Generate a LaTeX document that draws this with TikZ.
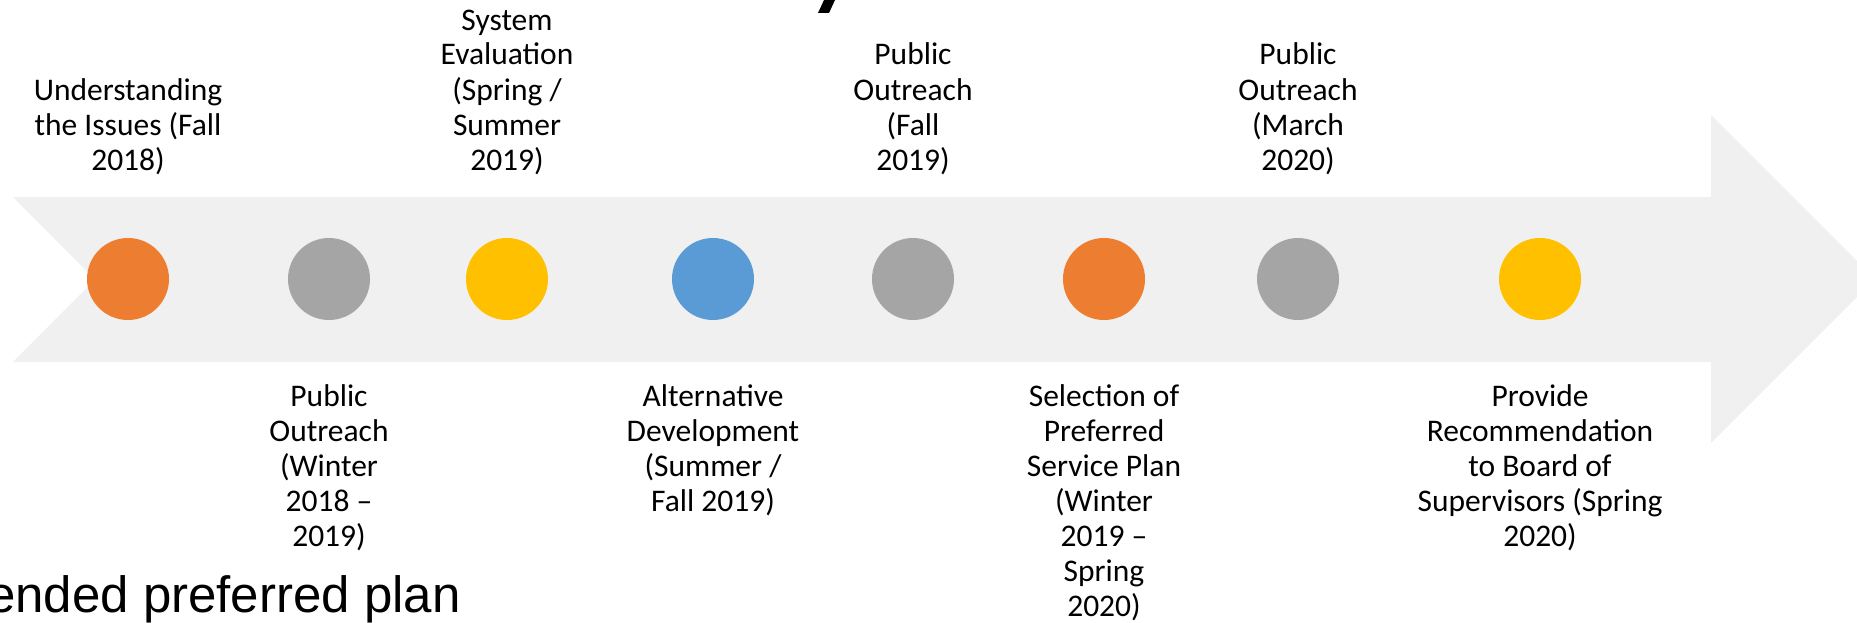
\documentclass[tikz,border=0pt]{standalone}
\usepackage{fontspec}
\setmainfont{Carlito}
\newfontfamily\arialfont{Liberation Sans}
\definecolor{arrowgray}{HTML}{F0F0F0}
\definecolor{dotorange}{HTML}{ED7D31}
\definecolor{dotgray}{HTML}{A5A5A5}
\definecolor{dotyellow}{HTML}{FFC000}
\definecolor{dotblue}{HTML}{5B9BD5}
\begin{document}
\begin{tikzpicture}[x=1pt,y=-1pt,
  dot/.style={circle,minimum size=82pt,inner sep=0pt,fill=#1},
  lbl/.style={align=center,inner sep=0pt,font=\fontsize{31.5}{35}\selectfont,anchor=base}]
\useasboundingbox (0,0) rectangle (1857,623);
\clip (0,0) rectangle (1857,623);
% big arrow
\fill[arrowgray] (13,197) -- (1711,197) -- (1711,115) -- (1875,279) -- (1711,443)
  -- (1711,362) -- (13,362) -- (95,279.5) -- cycle;
% fragment of a cropped title glyph
\fill[black] (818,13) -- (829,13) -- (835,0) -- (824,0) -- cycle;
% dots
\node[dot=dotorange] (d1) at (128,279) {};
\node[dot=dotgray]   (d2) at (329,279) {};
\node[dot=dotyellow] (d3) at (507,279) {};
\node[dot=dotblue]   (d4) at (713,279) {};
\node[dot=dotgray]   (d5) at (913,279) {};
\node[dot=dotorange] (d6) at (1104,279) {};
\node[dot=dotgray]   (d7) at (1298,279) {};
\node[dot=dotyellow] (d8) at (1540,279) {};
% labels above
\node[lbl] (t1) at (128,170) {Understanding\\the Issues (Fall\\2018)};
\node[lbl] (t3) at (507,170) {System\\Evaluation\\(Spring /\\Summer\\2019)};
\node[lbl] (t5) at (913,170) {Public\\Outreach\\(Fall\\2019)};
\node[lbl] (t7) at (1298,170) {Public\\Outreach\\(March\\2020)};
% labels below
\node[lbl] (t2) at (329,546) {Public\\Outreach\\(Winter\\2018 –\\2019)};
\node[lbl] (t4) at (713,511) {Alternative\\Development\\(Summer /\\Fall 2019)};
\node[lbl] (t6) at (1104,616) {Selection of\\Preferred\\Service Plan\\(Winter\\2019 –\\Spring\\2020)};
\node[lbl] (t8) at (1540,546) {Provide\\Recommendation\\to Board of\\Supervisors (Spring\\2020)};
% cropped bullet text
\node[anchor=base west,inner sep=0pt,font=\arialfont\fontsize{51}{60}\selectfont] (frag) at (-13,612) {ended preferred plan};
\end{tikzpicture}
\end{document}
